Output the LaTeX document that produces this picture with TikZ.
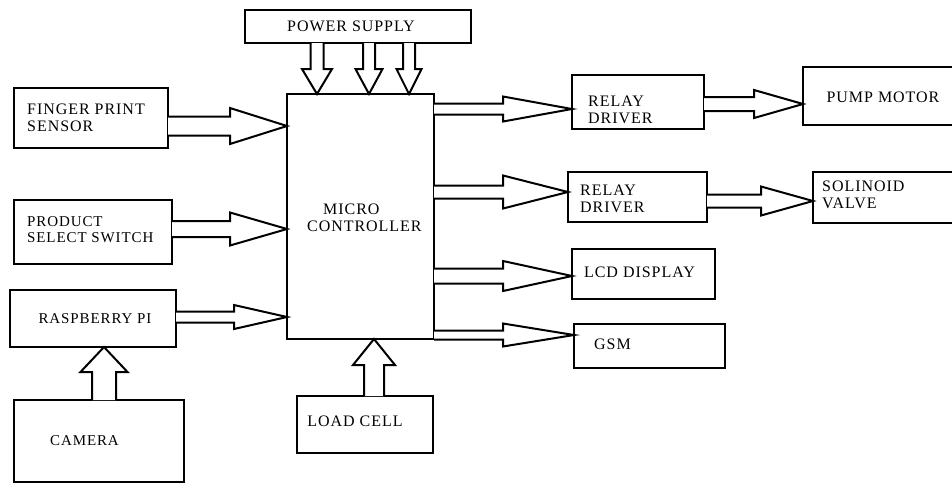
\documentclass[tikz,border=0pt]{standalone}
\usepackage{fontspec}
\setmainfont{Liberation Serif}
\newfontfamily\lblfont[LetterSpace=6]{Liberation Serif}
\usetikzlibrary{calc}
\tikzset{
  box/.style={draw, line width=2.2pt, inner sep=0pt, outer sep=0pt},
  lbl/.style={font=\lblfont\fontsize{16}{17}\selectfont, inner sep=0pt, align=left},
  lbls/.style={font=\lblfont\fontsize{15}{16}\selectfont, inner sep=0pt, align=left},
  barrow/.style={draw, line width=2pt, line join=miter, fill=white}
}
% right-pointing block arrow: start, tip, head length, shaft half, head half
\newcommand\barR[5]{\draw[barrow] let \p1=#1, \p2=#2 in
  (\x1,\y2+#4pt) -- (\x2-#3pt,\y2+#4pt) -- (\x2-#3pt,\y2+#5pt) -- (\x2,\y2)
  -- (\x2-#3pt,\y2-#5pt) -- (\x2-#3pt,\y2-#4pt) -- (\x1,\y2-#4pt);}
% down-pointing block arrow
\newcommand\barD[5]{\draw[barrow] let \p1=#1, \p2=#2 in
  (\x2-#4pt,\y1) -- (\x2-#4pt,\y2+#3pt) -- (\x2-#5pt,\y2+#3pt) -- (\x2,\y2)
  -- (\x2+#5pt,\y2+#3pt) -- (\x2+#4pt,\y2+#3pt) -- (\x2+#4pt,\y1);}
% up-pointing block arrow
\newcommand\barU[5]{\draw[barrow] let \p1=#1, \p2=#2 in
  (\x2-#4pt,\y1) -- (\x2-#4pt,\y2-#3pt) -- (\x2-#5pt,\y2-#3pt) -- (\x2,\y2)
  -- (\x2+#5pt,\y2-#3pt) -- (\x2+#4pt,\y2-#3pt) -- (\x2+#4pt,\y1);}
\begin{document}
\begin{tikzpicture}[x=1pt,y=-1pt]
\useasboundingbox (0,0) rectangle (952,483);
% boxes
\node[box, minimum width=226pt, minimum height=33pt] (ps) at (358,26.5) {};
\node[box, minimum width=147pt, minimum height=245pt] (mc) at (360.5,216.5) {};
\node[box, minimum width=154pt, minimum height=60pt] (fp) at (91,118) {};
\node[box, minimum width=158pt, minimum height=64pt] (pss) at (93,232) {};
\node[box, minimum width=166pt, minimum height=57pt] (rp) at (93,318.5) {};
\node[box, minimum width=170pt, minimum height=82pt] (cam) at (99,441) {};
\node[box, minimum width=136pt, minimum height=57pt] (lc) at (365,424.5) {};
\node[box, minimum width=132pt, minimum height=54pt] (rd1) at (638,102) {};
\node[box, minimum width=160pt, minimum height=58pt] (pm) at (883,96) {};
\node[box, minimum width=139pt, minimum height=50pt] (rd2) at (637.5,197) {};
\node[box, minimum width=150pt, minimum height=51pt] (sv) at (888,197.5) {};
\node[box, minimum width=143pt, minimum height=50pt] (lcd) at (643.5,274) {};
\node[box, minimum width=151pt, minimum height=44pt] (gsm) at (649.5,346) {};
% labels
\node[lbl] (tps) at (351,26.5) {POWER SUPPLY};
\node[lbl, anchor=west] (tmc) at (307,217.5) {\hspace*{16pt}MICRO\\CONTROLLER};
\node[lbl, anchor=west] (tfp) at (27,118) {FINGER PRINT\\SENSOR};
\node[lbls, anchor=west] (tpss) at (27,229.5) {PRODUCT\\SELECT SWITCH};
\node[lbls] (trp) at (95,319) {RASPBERRY PI};
\node[lbls] (tcam) at (84.5,441) {CAMERA};
\node[lbl] (tlc) at (355,421) {LOAD CELL};
\node[lbl, anchor=west] (trd1) at (588,110) {RELAY\\DRIVER};
\node[lbl] (tpm) at (883,97) {PUMP MOTOR};
\node[lbl, anchor=west] (trd2) at (580,199) {RELAY\\DRIVER};
\node[lbl, anchor=west] (tsv) at (822,195) {SOLINOID\\VALVE};
\node[lbl] (tlcd) at (639.5,272) {LCD DISPLAY};
\node[lbl] (tgsm) at (612.5,344) {GSM};
% arrows
\barD{(317,0 |- ps.south)}{(317,0 |- mc.north)}{25}{6.5}{15}
\barD{(369,0 |- ps.south)}{(369,0 |- mc.north)}{25}{6}{13.5}
\barD{(409,0 |- ps.south)}{(409,0 |- mc.north)}{25}{6}{12.5}
\barR{(fp.east |- 0,126)}{(mc.west |- 0,126)}{57}{9.5}{18}
\barR{(pss.east |- 0,229)}{(mc.west |- 0,229)}{57}{8}{16.5}
\barR{(rp.east |- 0,317)}{(mc.west |- 0,317)}{53}{5.5}{12}
\barU{(cam.north -| 104,0)}{(rp.south -| 104,0)}{25}{12}{23.5}
\barU{(lc.north -| 374,0)}{(mc.south -| 374,0)}{26}{10}{21}
\barR{(mc.east |- 0,109)}{(rd1.west |- 0,109)}{69}{5.5}{12.5}
\barR{(mc.east |- 0,192)}{(rd2.west |- 0,192)}{65}{6.5}{16.5}
\barR{(mc.east |- 0,276)}{(lcd.west |- 0,276)}{69}{7.5}{15}
\barR{(mc.east |- 0,335)}{(gsm.west |- 0,335)}{71}{4.5}{11.5}
\barR{(rd1.east |- 0,104)}{(pm.west |- 0,104)}{49}{7}{14}
\barR{(rd2.east |- 0,201)}{(sv.west |- 0,201)}{52}{6.5}{14.5}
\end{tikzpicture}
\end{document}
